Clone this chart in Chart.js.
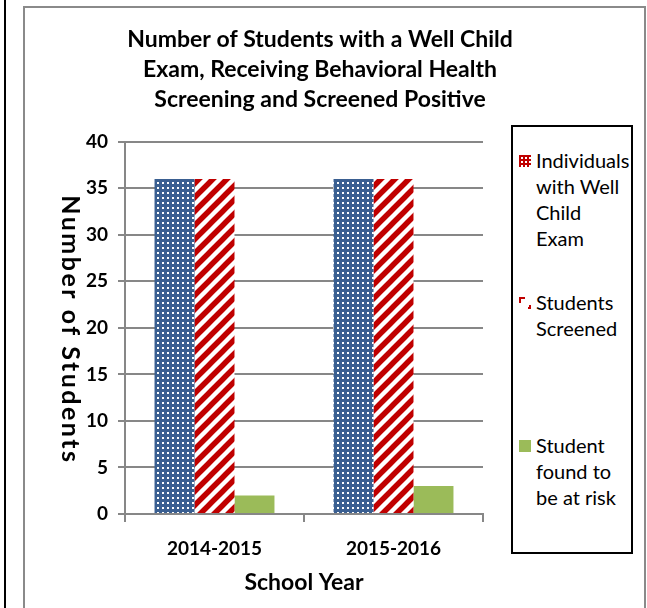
<!DOCTYPE html>
<html>
<head>
<meta charset="utf-8">
<script src="https://cdn.jsdelivr.net/npm/chart.js@4"></script>
<style>
  html, body { margin: 0; padding: 0; background: #fff; }
  #wrap { position: relative; width: 647px; height: 608px; overflow: hidden; }
  #plot { position: absolute; left: 0; top: 0; }
  .blackline { position: absolute; left: 4px; top: 0; width: 2px; height: 608px; background: #000; }
  .frame { position: absolute; left: 23px; top: 6px; width: 619px; height: 640px;
           border: 2px solid #8a8a8a; border-bottom: none; }
  #legend { position: absolute; left: 511px; top: 125px; width: 118px; height: 425px;
            border: 2px solid #000; background: #fff; font-family: Lato, sans-serif;
            font-size: 20px; color: #000; }
  .item { position: absolute; left: 23px; line-height: 26px; white-space: nowrap; }
  .item canvas { position: absolute; left: -17px; top: 8px; }
</style>
</head>
<body>
<div id="wrap">
  <div class="blackline"></div>
  <div class="frame"></div>
  <canvas id="plot" width="647" height="608"></canvas>
  <div id="legend"></div>
</div>
<script>
var years = ['2014-2015', '2015-2016'];
var wellChild = [36, 36];
var screened = [36, 36];
var atRisk = [2, 3];
var seriesNames = [
  ['Individuals', 'with Well', 'Child', 'Exam'],
  ['Students', 'Screened'],
  ['Student', 'found to', 'be at risk']
];
var titleLines = [
  'Number of Students with a Well Child',
  'Exam, Receiving Behavioral Health',
  'Screening and Screened Positive'
];
var yTitle = 'Number of Students';
var xTitle = 'School Year';

function dotPattern(bg, fg) {
  var c = document.createElement('canvas');
  c.width = 5; c.height = 5;
  var g = c.getContext('2d');
  g.fillStyle = bg; g.fillRect(0, 0, 5, 5);
  g.fillStyle = fg; g.fillRect(2, 2, 2, 2);
  return c;
}

function stripePattern(fg) {
  var s = 14;
  var c = document.createElement('canvas');
  c.width = s; c.height = s;
  var g = c.getContext('2d');
  g.fillStyle = '#fff'; g.fillRect(0, 0, s, s);
  g.strokeStyle = fg; g.lineWidth = 5.5;
  g.beginPath();
  g.moveTo(-1, s + 1); g.lineTo(s + 1, -1);
  g.moveTo(-s / 2 - 1, s / 2 + 1); g.lineTo(s / 2 + 1, -s / 2 - 1);
  g.moveTo(s / 2 - 1, s * 1.5 + 1); g.lineTo(s * 1.5 + 1, s / 2 - 1);
  g.stroke();
  return c;
}

// y axis title in the original reads top to bottom
var sideTitle = {
  id: 'sideTitle',
  afterDraw: function (chart) {
    var a = chart.chartArea, g = chart.ctx;
    g.save();
    g.translate(70, (a.top + a.bottom) / 2 + 2);
    g.rotate(Math.PI / 2);
    g.font = 'bold 25px Lato';
    g.letterSpacing = '2.5px';
    g.fillStyle = '#000';
    g.textAlign = 'center';
    g.textBaseline = 'middle';
    g.fillText(yTitle, 0, 0);
    g.restore();
  }
};

var ctx = document.getElementById('plot').getContext('2d');
var bluePat = ctx.createPattern(dotPattern('#3a5f91', '#ffffff'), 'repeat');
var redPat = ctx.createPattern(stripePattern('#c00000'), 'repeat');
var green = '#9bbb59';
var gray = '#878787';

var chart = new Chart(ctx, {
  type: 'bar',
  data: {
    labels: years,
    datasets: [{
      label: seriesNames[0].join(' '),
      data: wellChild,
      backgroundColor: bluePat
    }, {
      label: seriesNames[1].join(' '),
      data: screened,
      backgroundColor: redPat
    }, {
      label: seriesNames[2].join(' '),
      data: atRisk,
      backgroundColor: green
    }]
  },
  plugins: [sideTitle],
  options: {
    responsive: false,
    animation: false,
    categoryPercentage: 0.67,
    barPercentage: 1.0,
    layout: { padding: { left: 0, right: 7, top: 0, bottom: 10 } },
    plugins: {
      legend: { display: false },
      tooltip: { enabled: false },
      title: {
        display: true,
        text: titleLines,
        color: '#000',
        font: { family: 'Lato', size: 23, weight: 'bold', lineHeight: 1.3 },
        padding: { top: 25, bottom: 27 }
      }
    },
    scales: {
      x: {
        grid: { drawOnChartArea: false, drawTicks: true, tickLength: 8, color: gray, lineWidth: 2 },
        border: { color: gray, width: 2 },
        ticks: { color: '#000', padding: 15, font: { family: 'Lato', size: 19, weight: 'bold' } },
        title: { display: true, text: xTitle, color: '#000', padding: 2,
                 font: { family: 'Lato', size: 23, weight: 'bold' } },
        afterFit: function (s) { s.height = 84; }
      },
      y: {
        min: 0, max: 40,
        ticks: { stepSize: 5, color: '#000', padding: 10, font: { family: 'Lato', size: 19, weight: 'bold' } },
        grid: { color: gray, lineWidth: 2, tickLength: 7 },
        border: { color: gray, width: 2 },
        afterFit: function (s) { s.width = 125; }
      },
      // empty right-hand axis only keeps room for the legend box
      side: {
        position: 'right',
        grid: { display: false },
        border: { display: false },
        ticks: { display: false },
        afterFit: function (s) { s.width = 157; }
      }
    }
  }
});

// legend built by hand so that the labels wrap the way the original does
var legend = document.getElementById('legend');
var itemTops = [20, 162, 305];
var swatches = [
  function (g) { g.fillStyle = '#c00000'; g.fillRect(0, 0, 12, 12);
                 g.fillStyle = '#fff'; for (var i = 2; i < 12; i += 4) for (var j = 2; j < 12; j += 4) g.fillRect(i, j, 2, 2); },
  function (g) { g.fillStyle = '#c00000'; g.fillRect(0, 0, 6, 2); g.fillRect(0, 0, 2, 6);
                 g.fillRect(9, 10, 3, 2); g.fillRect(10, 8, 2, 4); },
  function (g) { g.fillStyle = green; g.fillRect(0, 0, 12, 12); }
];
seriesNames.forEach(function (lines, k) {
  var div = document.createElement('div');
  div.className = 'item';
  div.style.top = itemTops[k] + 'px';
  var sw = document.createElement('canvas');
  sw.width = 12; sw.height = 12;
  swatches[k](sw.getContext('2d'));
  div.appendChild(sw);
  lines.forEach(function (t, i) {
    if (i) div.appendChild(document.createElement('br'));
    div.appendChild(document.createTextNode(t));
  });
  legend.appendChild(div);
});
</script>
</body>
</html>
